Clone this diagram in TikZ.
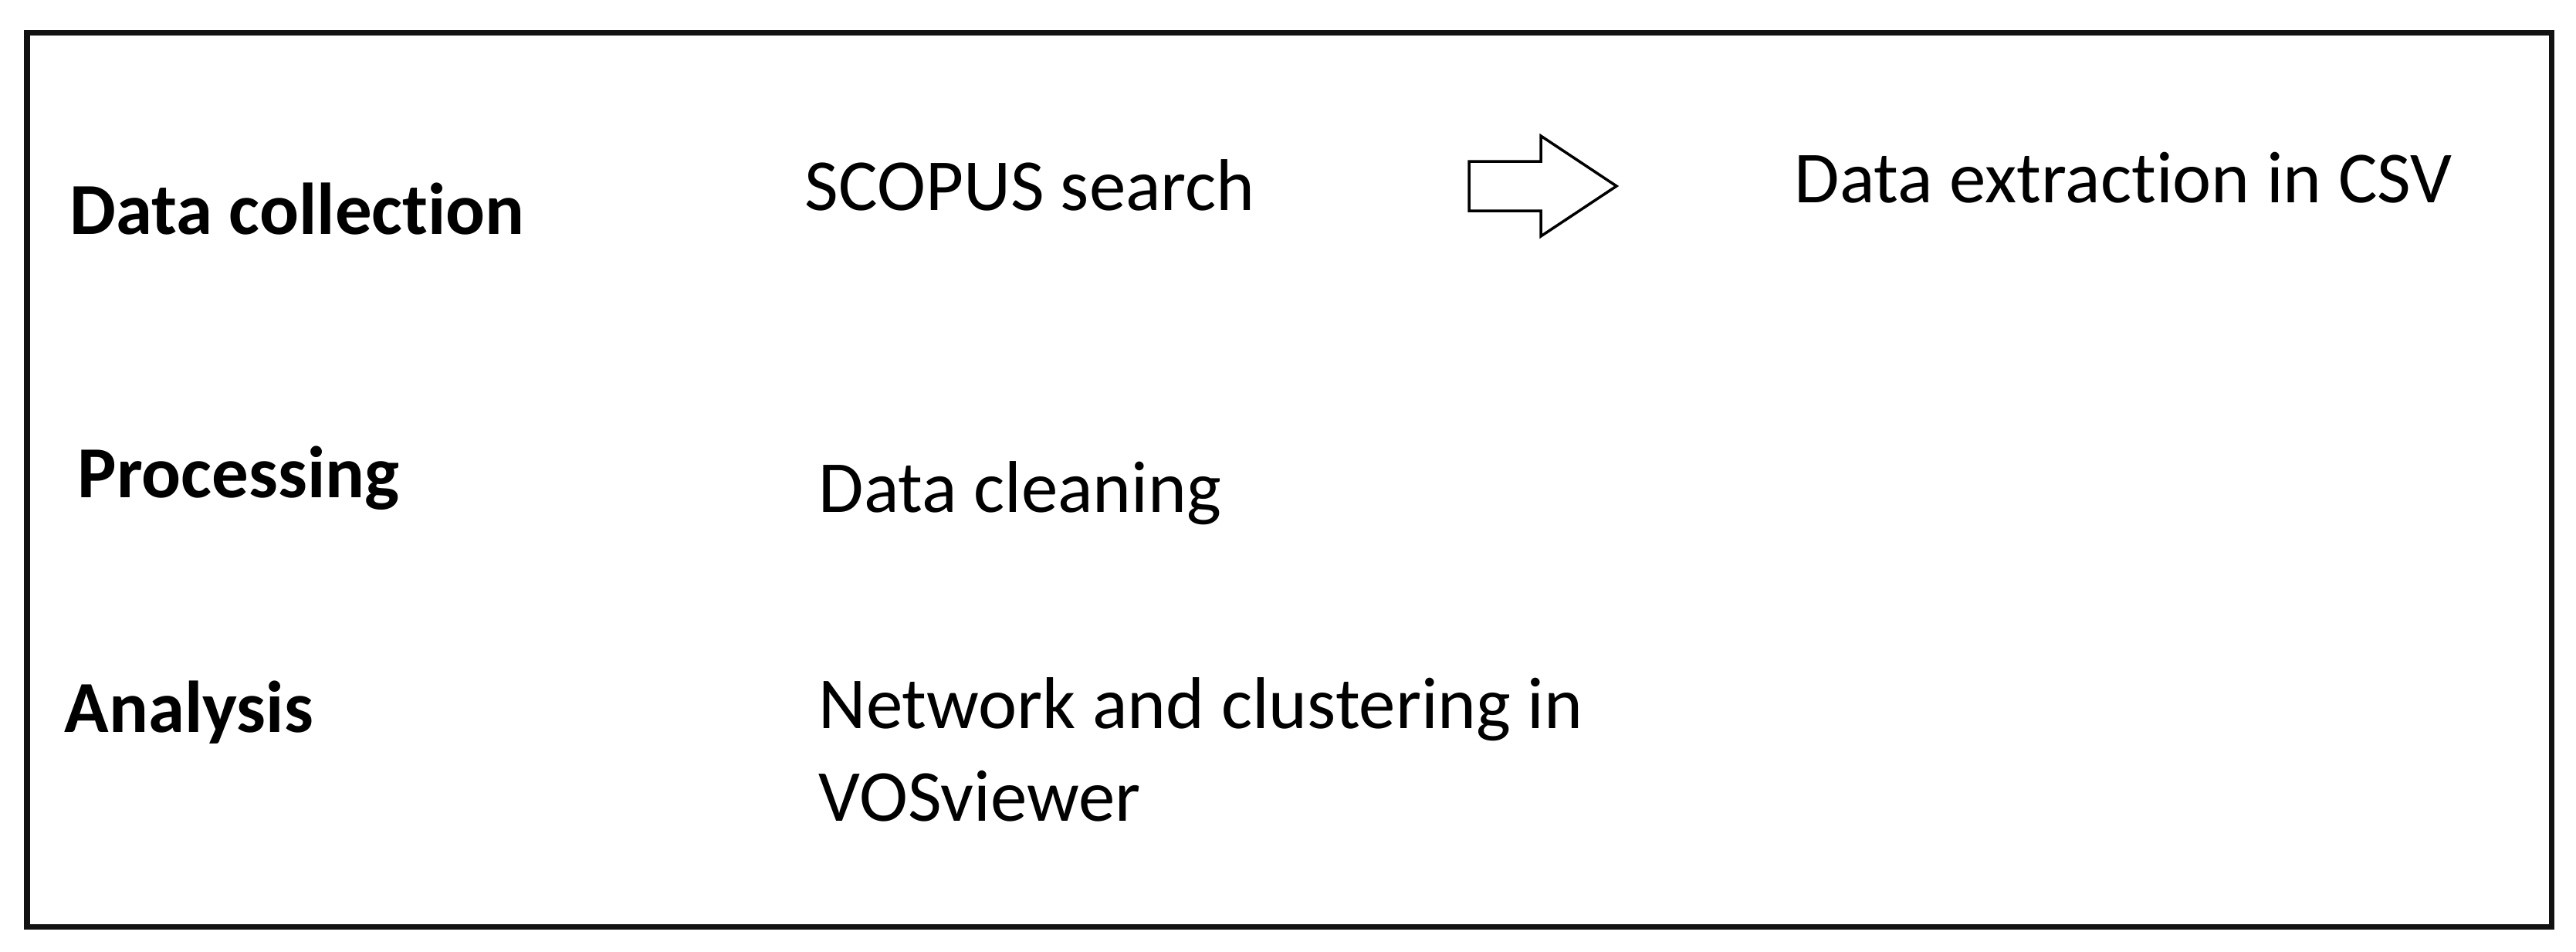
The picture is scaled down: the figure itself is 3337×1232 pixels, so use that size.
\documentclass[tikz,border=0pt]{standalone}
\usepackage{fontspec}
\setmainfont{Carlito}[Ligatures=NoCommon]
\begin{document}
\begin{tikzpicture}[x=0.01cm,y=-0.01cm,
  lbl/.style={anchor=base west,inner sep=0pt,font=\fontsize{27}{33.9}\selectfont},
  head/.style={lbl,font=\fontsize{27}{33.9}\selectfont\bfseries},
  frame/.style={draw=black!93,line width=0.07cm},
  bigarrow/.style={draw=black,line width=0.035cm,fill=white,line join=miter}]
\useasboundingbox (0,0) rectangle (3337,1232);
\draw[frame] (35,42.5) rectangle (3305.5,1200.5);
\node[head] (dc) at (90,303) {Data collection};
\node[head] (pr) at (100,644) {Processing};
\node[head] (an) at (83,948) {Analysis};
\node[lbl] (sc) at (1042,272) {SCOPUS search};
\node[lbl] (de) at (2324,262) {Data extraction in CSV};
\node[lbl] (cl) at (1060,663) {Data cleaning};
\node[lbl,align=left] (nw) at (1060,1063) {Network and clustering in\\VOSviewer};
\draw[bigarrow] (1903,209) -- (1996,209) -- (1996,176) -- (2094,241) -- (1996,306) -- (1996,273) -- (1903,273) -- cycle;
\end{tikzpicture}
\end{document}
